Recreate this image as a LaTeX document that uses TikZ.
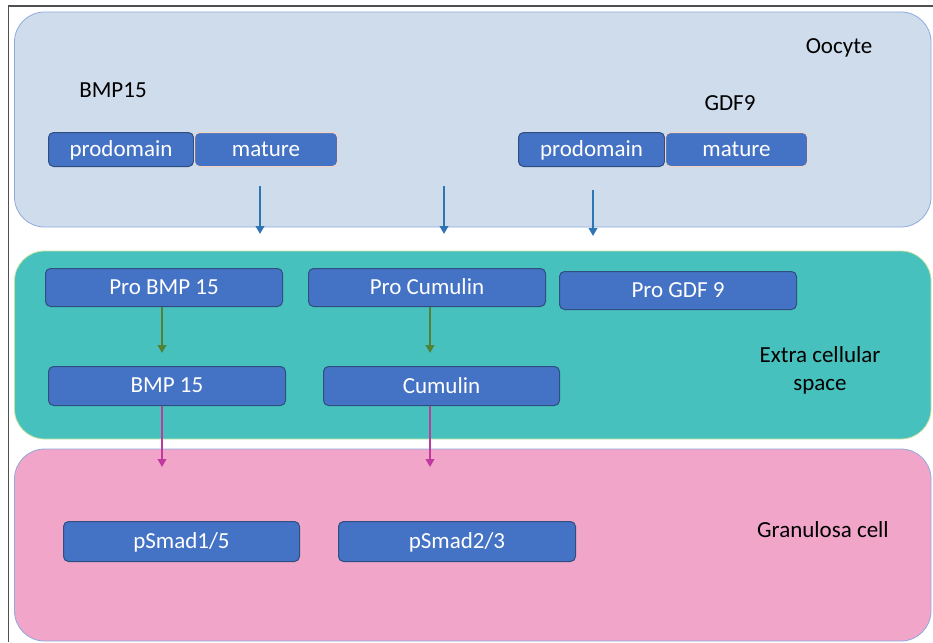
\documentclass[tikz,border=0pt]{standalone}
\usepackage{fontspec}
\setmainfont{Carlito}
\usetikzlibrary{arrows.meta}
\definecolor{oofill}{HTML}{CFDCEC}
\definecolor{ooline}{HTML}{8FAADC}
\definecolor{ecfill}{HTML}{47C1BD}
\definecolor{ecline}{HTML}{C9E3A0}
\definecolor{grfill}{HTML}{F1A5C9}
\definecolor{grline}{HTML}{8FAADC}
\definecolor{boxfill}{HTML}{4472C4}
\definecolor{boxdark}{HTML}{2F4F80}
\definecolor{boxlight}{HTML}{F4D3C0}
\definecolor{arrblue}{HTML}{2E75B6}
\definecolor{arrgreen}{HTML}{548235}
\definecolor{arrmag}{HTML}{C0399F}
\definecolor{framec}{HTML}{505050}
\tikzset{
  region/.style={rounded corners=30pt, line width=0.8pt},
  pbox/.style={draw=boxdark, fill=boxfill, rounded corners=5pt, line width=1pt,
    text=white, font=\fontsize{23}{26}\selectfont, inner sep=0pt, anchor=north west,
    text depth=1pt},
  lbl/.style={font=\fontsize{23}{28}\selectfont, text=black, align=center},
  arr/.style={line width=2.8pt, -{Triangle[length=8pt,width=8.5pt]}}
}
\begin{document}
\begin{tikzpicture}[x=1pt,y=-1pt]
\useasboundingbox (0,0) rectangle (933,642);
% regions
\draw[region, fill=oofill, draw=ooline] (14.5,12) rectangle (931,227);
\draw[region, fill=ecfill, draw=ecline] (14.5,251) rectangle (931,439);
\draw[region, fill=grfill, draw=grline] (14.5,449) rectangle (931,641);
% frame
\draw[framec, line width=1.5pt] (8.5,642) -- (8.5,6) -- (933,6);
% labels
\node[lbl] (oocyte) at (839,48) {Oocyte};
\node[lbl] (bmplbl) at (113,90) {BMP15};
\node[lbl] (gdflbl) at (730,103) {GDF9};
\node[lbl] (ecs) at (820,370) {Extra cellular\\space};
\node[lbl] (gran) at (823,530) {Granulosa cell};
% oocyte boxes
\node[pbox, minimum width=145pt, minimum height=34pt] (pd1) at (48,132) {prodomain};
\node[pbox, draw=boxlight, minimum width=143pt, minimum height=34pt] (mt1) at (194,132) {mature};
\node[pbox, minimum width=146pt, minimum height=34pt] (pd2) at (518,132) {prodomain};
\node[pbox, draw=boxlight, minimum width=142pt, minimum height=34pt] (mt2) at (665,132) {mature};
% extracellular boxes
\node[pbox, minimum width=237pt, minimum height=38pt] (probmp) at (45,268) {Pro BMP 15};
\node[pbox, minimum width=237pt, minimum height=38pt] (procum) at (308,268) {Pro Cumulin};
\node[pbox, minimum width=237pt, minimum height=38pt] (progdf) at (559,271) {Pro GDF 9};
\node[pbox, minimum width=237pt, minimum height=39pt] (bmp) at (48,366) {BMP 15};
\node[pbox, minimum width=236pt, minimum height=39pt] (cum) at (323,366) {Cumulin};
% granulosa boxes
\node[pbox, minimum width=236pt, minimum height=40pt] (ps15) at (63,521) {pSmad1/5};
\node[pbox, minimum width=237pt, minimum height=40pt] (ps23) at (338,521) {pSmad2/3};
% arrow coordinates
\coordinate (a1s) at (260,186); \coordinate (a1e) at (260,234);
\coordinate (a2s) at (444,186); \coordinate (a2e) at (444,234);
\coordinate (a3s) at (593,190); \coordinate (a3e) at (593,236);
\coordinate (g1e) at (162,353);
\coordinate (g2e) at (430,353);
\coordinate (m1e) at (162,467);
\coordinate (m2e) at (430,467);
% arrows
\draw[arr, arrblue] (a1s) -- (a1e);
\draw[arr, arrblue] (a2s) -- (a2e);
\draw[arr, arrblue] (a3s) -- (a3e);
\draw[arr, arrgreen] (probmp.south -| g1e) -- (g1e);
\draw[arr, arrgreen] (procum.south -| g2e) -- (g2e);
\draw[arr, arrmag] (bmp.south -| m1e) -- (m1e);
\draw[arr, arrmag] (cum.south -| m2e) -- (m2e);
\end{tikzpicture}
\end{document}
